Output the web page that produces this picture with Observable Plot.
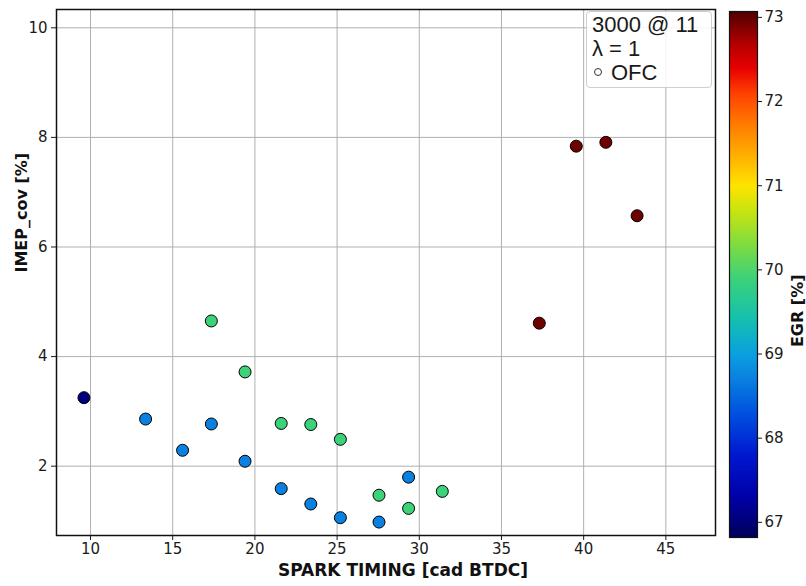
<!DOCTYPE html>
<html>
<head>
<meta charset="utf-8">
<script src="https://cdn.jsdelivr.net/npm/d3@7"></script>
<script src="https://cdn.jsdelivr.net/npm/@observablehq/plot@0.6"></script>
<style>
  body { margin: 0; background: #fff; }
  #wrap { position: relative; width: 806px; height: 586px; overflow: hidden; }
  #wrap svg { position: absolute; top: 0; }
  #legend {
    position: absolute; left: 586px; top: 11px; width: 126px; height: 77px;
    border: 1px solid #cfcfcf; border-radius: 4px; background: rgba(255,255,255,0.85);
    font-family: "Liberation Sans", Arial, sans-serif; font-size: 22px; color: #1a1a1a;
    line-height: 24px; box-sizing: border-box; padding: 1px 0 0 5px; white-space: nowrap;
  }
  #legend .mk { display: inline-block; width: 6px; height: 6px; border: 1.2px solid #333; border-radius: 50%; margin: 0 9px 4px 2px; vertical-align: middle; background: #fff; }
</style>
</head>
<body>
<div id="wrap"></div>
<script>
// ---- data ----
const spark = [9.6, 13.35, 15.6, 17.35, 17.35, 19.4, 19.4, 21.6, 21.6, 23.4, 23.4, 25.2, 25.2, 27.55, 27.55, 29.35, 29.35, 31.4, 37.3, 39.55, 41.35, 43.25];
const imepCov = [3.25, 2.86, 2.29, 2.77, 4.65, 3.72, 2.09, 2.78, 1.59, 2.76, 1.31, 2.49, 1.06, 1.47, 0.98, 1.80, 1.23, 1.54, 4.61, 7.84, 7.91, 6.57];
const egr = [67.05, 68.7, 68.7, 68.7, 69.9, 69.9, 68.7, 69.9, 68.7, 69.9, 68.7, 69.9, 68.7, 69.9, 68.7, 68.7, 69.9, 69.9, 72.95, 72.95, 72.95, 72.95];
const xTicks = [10, 15, 20, 25, 30, 35, 40, 45];
const yTicks = [2, 4, 6, 8, 10];
const egrTicks = [67, 68, 69, 70, 71, 72, 73];
const legendLines = ["3000 @ 11", "λ = 1", "OFC"];
const xLabel = "SPARK TIMING [cad BTDC]";
const yLabel = "IMEP_cov [%]";
const cLabel = "EGR [%]";
// colormap stops (value -> colour) as seen on the colour bar
const cmapValues = [66.82, 67.3, 67.8, 68.3, 68.7, 69.0, 69.4, 69.9, 70.3, 70.7, 71.0, 71.3, 71.7, 72.1, 72.4, 72.7, 73.07];
const cmapColors = ["#00005a", "#0000a8", "#0018d0", "#0052e0", "#0a80e0", "#0aa0e0", "#14c0b0", "#3cd27a", "#80dc40", "#c8e410", "#ffe400", "#ffb800", "#ff8000", "#ff4000", "#e80000", "#b00000", "#500000"];

const data = spark.map((s, i) => ({spark: s, imep: imepCov[i], egr: egr[i]}));
const colorOpts = {type: "linear", domain: cmapValues, range: cmapColors, interpolate: "rgb", clamp: true};

const main = Plot.plot({
  width: 806, height: 586,
  marginLeft: 56, marginTop: 9, marginRight: 91, marginBottom: 51,
  style: {fontFamily: "DejaVu Sans", fontSize: "15px", color: "#1a1a1a", background: "transparent"},
  x: {domain: [7.93, 48.02]},
  y: {domain: [0.735, 10.334]},
  color: colorOpts,
  marks: [
    Plot.gridX(xTicks, {stroke: "#b0b0b0", strokeOpacity: 1, strokeWidth: 1}),
    Plot.gridY(yTicks, {stroke: "#b0b0b0", strokeOpacity: 1, strokeWidth: 1}),
    Plot.dot(data, {x: "spark", y: "imep", fill: "egr", r: 6, stroke: "black", strokeWidth: 1}),
    Plot.frame({stroke: "#111", strokeWidth: 1.5}),
    Plot.axisX({ticks: xTicks, tickSize: 5, tickPadding: 3, label: null, fontSize: 15}),
    Plot.axisY({ticks: yTicks, tickSize: 5, tickPadding: 4, label: null, fontSize: 15}),
    Plot.text([xLabel], {frameAnchor: "bottom", dy: 40, dx: 17, fontWeight: "bold", fontSize: 17, fill: "#111"}),
    Plot.text([yLabel], {frameAnchor: "left", dx: -35, rotate: -90, fontWeight: "bold", fontSize: 16, fill: "#111"})
  ]
});
main.style.left = "0px";

const bar = Plot.plot({
  width: 77, height: 586,
  marginLeft: 0, marginRight: 49, marginTop: 11, marginBottom: 49,
  style: {fontFamily: "DejaVu Sans", fontSize: "15px", color: "#1a1a1a", background: "transparent", overflow: "visible"},
  x: {domain: [0, 1], axis: null},
  y: {domain: [66.82, 73.07], axis: null},
  color: colorOpts,
  marks: [
    Plot.raster({x1: 0, x2: 1, y1: 66.82, y2: 73.07, width: 1, height: 400, fill: (x, y) => y, imageRendering: "auto"}),
    Plot.frame({stroke: "#111", strokeWidth: 1.2}),
    Plot.axisY({anchor: "right", ticks: egrTicks, tickFormat: "d", tickSize: 4, tickPadding: 3, label: null, fontSize: 15}),
    Plot.text([cLabel], {frameAnchor: "right", dx: 40, rotate: -90, fontWeight: "bold", fontSize: 16, fill: "#111"})
  ]
});
bar.style.left = "729px";

const wrap = document.getElementById("wrap");
wrap.appendChild(main);
wrap.appendChild(bar);

const leg = document.createElement("div");
leg.id = "legend";
leg.innerHTML = `<div>${legendLines[0]}</div><div>${legendLines[1]}</div><div><span class="mk"></span>${legendLines[2]}</div>`;
wrap.appendChild(leg);
</script>
</body>
</html>
